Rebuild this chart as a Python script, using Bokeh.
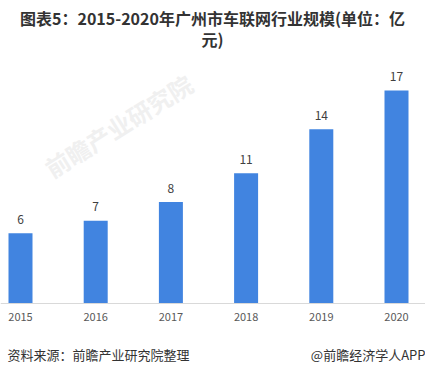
import math
from bokeh.plotting import figure
from bokeh.models import ColumnDataSource, FixedTicker, Label, Range1d, LinearAxis
from bokeh.embed import file_html
from bokeh.resources import INLINE
from bokeh.core.properties import value

years = ["2015", "2016", "2017", "2018", "2019", "2020"]
values = [5.6, 6.6, 8.1, 10.4, 13.9, 17.0]
labels = ["6", "7", "8", "11", "14", "17"]
title_line1 = "图表5：2015-2020年广州市车联网行业规模(单位：亿"
title_line2 = "元)"
source_text = "资料来源：前瞻产业研究院整理"
brand_text = "@前瞻经济学人APP"
watermark = "前瞻产业研究院"

FONT = "Noto Sans CJK SC"
W, H = 425, 376
BASE = 303          # pixel row of the baseline
px_per_x = 75.2
x0 = -20 / px_per_x
x1 = x0 + W / px_per_x
px_per_y = 12.53
y0 = -(H - BASE) / px_per_y
y1 = BASE / px_per_y


def xd(px):
    return x0 + px / px_per_x


def yd(py):
    return (BASE - py) / px_per_y


xs = list(range(len(years)))
src = ColumnDataSource(dict(x=xs, top=values, lab=labels,
                            ly=[v + 14 / px_per_y for v in values]))

p = figure(width=W, height=H, output_backend="svg", toolbar_location=None,
           x_range=Range1d(x0, x1), y_range=Range1d(y0, y1),
           y_axis_location=None, x_axis_location=None,
           min_border=0)
p.outline_line_color = None
p.grid.visible = False
p.background_fill_color = "white"
p.border_fill_color = "white"

# faint watermark
p.add_layout(Label(x=xd(118), y=yd(125), text=watermark, angle=math.radians(32),
                   text_align="center", text_baseline="middle",
                   text_font=FONT, text_font_size="24px",
                   text_font_style="bold", text_color="#f0f0f0"))

p.vbar(x="x", top="top", width=24 / px_per_x, bottom=0, source=src,
       color="#4184e0", line_color=None)
p.text(x="x", y="ly", text="lab", source=src, text_align="center",
       text_baseline="middle", text_font=value(FONT), text_font_size="12px",
       text_color="#404040")

ax = LinearAxis(fixed_location=0)
ax.ticker = FixedTicker(ticks=xs)
ax.major_label_overrides = {i: y for i, y in enumerate(years)}
ax.major_tick_line_color = None
ax.minor_tick_line_color = None
ax.axis_line_color = "#d9d9d9"
ax.axis_line_width = 1
ax.major_label_text_font = FONT
ax.major_label_text_font_size = "11px"
ax.major_label_text_color = "#595959"
ax.major_label_standoff = 3
p.add_layout(ax, "below")

for txt, py in [(title_line1, 17), (title_line2, 38)]:
    p.add_layout(Label(x=xd(212), y=yd(py), text=txt, text_align="center",
                       text_baseline="middle", text_font=FONT,
                       text_font_size="16px", text_font_style="bold",
                       text_color="#333333"))

p.add_layout(Label(x=xd(7), y=yd(354), text=source_text, text_align="left",
                   text_baseline="middle", text_font=FONT,
                   text_font_size="13px", text_color="#333333"))
p.add_layout(Label(x=xd(425), y=yd(354), text=brand_text, text_align="right",
                   text_baseline="middle", text_font=FONT,
                   text_font_size="13px", text_color="#333333"))

open("out.html", "w").write(file_html(p, INLINE))
